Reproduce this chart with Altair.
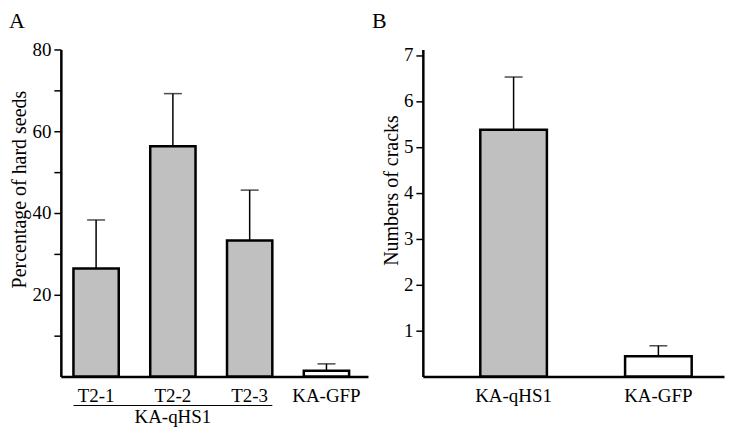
import altair as alt
import pandas as pd

FONT = "Liberation Serif"

# Panel A data
a_groups = ["T2-1", "T2-2", "T2-3", "KA-GFP"]
a_means = [26.4, 56.3, 33.3, 1.4]
a_upper = [38.3, 69.2, 45.6, 3.1]
a_kind = ["KA-qHS1", "KA-qHS1", "KA-qHS1", "KA-GFP"]
a_ticks = [10, 20, 30, 40, 50, 60, 70, 80]

# group bracket under panel A
group_label = ["KA-qHS1"]
group_start = ["T2-1"]
group_end = ["T2-3"]
group_center = ["T2-2"]

# Panel B data
b_groups = ["KA-qHS1", "KA-GFP"]
b_means = [5.37, 0.44]
b_upper = [6.52, 0.67]
b_kind = ["KA-qHS1", "KA-GFP"]
b_ticks = [1, 2, 3, 4, 5, 6, 7]

panel_letters = ["A", "B"]

fill_scale = alt.Scale(domain=["KA-qHS1", "KA-GFP"], range=["#c0c0c0", "#ffffff"])

dfA = pd.DataFrame({"group": a_groups, "mean": a_means, "upper": a_upper, "kind": a_kind})
dfB = pd.DataFrame({"group": b_groups, "mean": b_means, "upper": b_upper, "kind": b_kind})
dfG = pd.DataFrame({"label": group_label, "start": group_start, "end": group_end, "center": group_center})
dfLA = pd.DataFrame({"letter": [panel_letters[0]]})
dfLB = pd.DataFrame({"letter": [panel_letters[1]]})

WA = 308
WB = 302
H = 328


def x_axis():
    return alt.Axis(title=None, labelAngle=0, ticks=False, labelPadding=10,
                    labelFontSize=19, domainWidth=2.5, domainColor="black",
                    labelColor="black", labelFont=FONT)


def y_axis(title, values, title_y, expr=None):
    kw = dict(title=title, values=values, grid=False, tickSize=7, tickWidth=1.5,
              tickColor="black", domainWidth=2.5, domainColor="black",
              labelPadding=3, labelFontSize=19, labelColor="black", labelFont=FONT,
              titleFontSize=20, titleFontWeight="normal", titleColor="black",
              titleFont=FONT, titlePadding=2, titleY=title_y)
    if expr:
        kw["labelExpr"] = expr
    return alt.Axis(**kw)


def letter(df, dx):
    return alt.Chart(df).mark_text(font=FONT, fontSize=22, baseline="alphabetic",
                                   align="left", color="black").encode(
        x=alt.value(dx), y=alt.value(-22), text="letter:N")


xA_scale = alt.Scale(domain=a_groups, paddingInner=0.41, paddingOuter=0.205, align=0.4)
xA = alt.X("group:N", scale=xA_scale, axis=x_axis())
yA = alt.Y("mean:Q", scale=alt.Scale(domain=[0, 80], nice=False),
           axis=y_axis("Percentage of hard seeds", a_ticks, 140,
                       "datum.value % 20 === 0 ? datum.label : ''"))

barsA = alt.Chart(dfA).mark_bar(stroke="black", strokeWidth=2.5).encode(
    x=xA, y=yA,
    fill=alt.Fill("kind:N", scale=fill_scale, legend=None))
errA = alt.Chart(dfA).mark_rule(color="black", strokeWidth=1.5).encode(
    x=alt.X("group:N"), y=alt.Y("mean:Q"), y2="upper:Q")
capA = alt.Chart(dfA).mark_tick(color="black", size=18, thickness=1.5).encode(
    x=alt.X("group:N"), y=alt.Y("upper:Q"))
ruleG = alt.Chart(dfG).mark_rule(color="black", strokeWidth=1.2).encode(
    x=alt.X("start:N", bandPosition=0), x2=alt.X2("end:N", bandPosition=1),
    y=alt.value(H + 29))
textG = alt.Chart(dfG).mark_text(font=FONT, fontSize=19, baseline="alphabetic",
                                 align="center", color="black").encode(
    x=alt.X("center:N"), y=alt.value(H + 47), text="label:N")

panelA = alt.layer(barsA, errA, capA, ruleG, textG, letter(dfLA, -52)).properties(
    width=WA, height=H)

xB_scale = alt.Scale(domain=b_groups, paddingInner=0.54, paddingOuter=0.31, align=0.64)
xB = alt.X("group:N", scale=xB_scale, axis=x_axis())
yB = alt.Y("mean:Q", scale=alt.Scale(domain=[0, 7.12], nice=False),
           axis=y_axis("Numbers of cracks", b_ticks, 141))

barsB = alt.Chart(dfB).mark_bar(stroke="black", strokeWidth=2.5).encode(
    x=xB, y=yB,
    fill=alt.Fill("kind:N", scale=fill_scale, legend=None))
errB = alt.Chart(dfB).mark_rule(color="black", strokeWidth=1.5).encode(
    x=alt.X("group:N"), y=alt.Y("mean:Q"), y2="upper:Q")
capB = alt.Chart(dfB).mark_tick(color="black", size=18, thickness=1.5).encode(
    x=alt.X("group:N"), y=alt.Y("upper:Q"))

panelB = alt.layer(barsB, errB, capB, letter(dfLB, -51)).properties(
    width=WB, height=H)

chart = alt.hconcat(panelA, panelB, spacing=55, bounds="flush").resolve_scale(
    x="independent", y="independent", fill="shared"
).configure(
    padding={"left": 0, "top": 0, "right": 0, "bottom": 0},
    font=FONT,
    background="white",
).configure_view(stroke="transparent")

chart.save("out.html", embed_options={"renderer": "svg", "actions": False})
